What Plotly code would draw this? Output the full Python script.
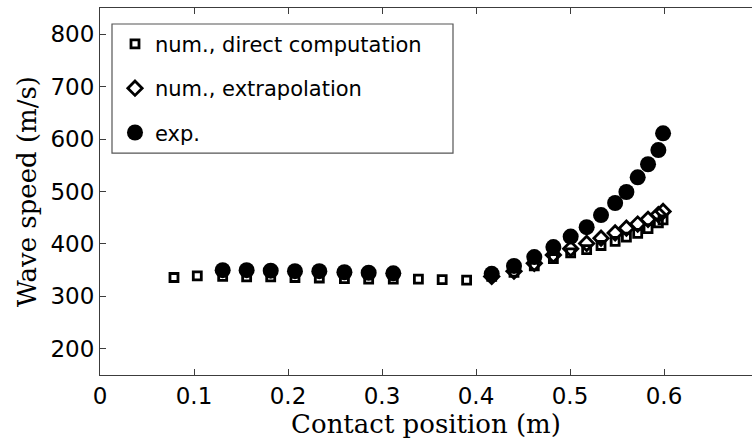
import plotly.graph_objects as go

# Direct computation (squares)
x_direct = [0.0787, 0.1035, 0.1305, 0.156, 0.1816, 0.2074, 0.2333, 0.26, 0.2858, 0.312,
            0.3387, 0.364, 0.39,
            0.4167, 0.4404, 0.462, 0.4823, 0.5007, 0.5177, 0.533, 0.548, 0.560, 0.572,
            0.583, 0.594, 0.599]
v_direct = [336, 339, 338, 337, 337, 336, 335, 334, 333, 333,
            333, 332, 331,
            338, 346, 358, 372, 383, 389, 397, 405, 413, 420,
            429, 440, 446]

# Extrapolation (diamonds)
x_extrap = [0.4167, 0.4404, 0.462, 0.4823, 0.5007, 0.5177, 0.533, 0.548, 0.560, 0.572,
            0.583, 0.594, 0.599]
v_extrap = [338, 348, 363, 379, 391, 401, 411, 421, 430, 438, 447, 456, 462]

# Experiment (circles)
x_exp = [0.1305, 0.156, 0.1816, 0.2074, 0.2333, 0.26, 0.2858, 0.312,
         0.4167, 0.4404, 0.462, 0.4823, 0.5007, 0.5177, 0.533, 0.548, 0.560, 0.572,
         0.583, 0.594, 0.599]
v_exp = [350, 350, 349, 348, 348, 346, 345, 344,
         343, 358, 375, 394, 414, 432, 455, 478, 499, 527, 552, 579, 611]

x_ticks = [0, 0.1, 0.2, 0.3, 0.4, 0.5, 0.6]
x_tick_text = ["0", "0.1", "0.2", "0.3", "0.4", "0.5", "0.6"]
y_ticks = [200, 300, 400, 500, 600, 700, 800]

fig = go.Figure()
fig.add_trace(go.Scatter(
    x=x_direct, y=v_direct, mode="markers", name="num., direct computation",
    legendgroup="a",
    marker=dict(symbol="square-open", size=8, color="black", line=dict(width=2.8, color="black"))))
fig.add_trace(go.Scatter(
    x=x_extrap, y=v_extrap, mode="markers", name="num., extrapolation",
    legendgroup="b",
    marker=dict(symbol="diamond-open", size=11, color="black", line=dict(width=2.8, color="black"))))
fig.add_trace(go.Scatter(
    x=x_exp, y=v_exp, mode="markers", name="exp.",
    legendgroup="c",
    marker=dict(symbol="circle", size=16, color="black", line=dict(width=0))))

axcol = "#3c3c3c"
fig.update_layout(
    width=752, height=441,
    margin=dict(l=100, r=0, t=8, b=66),
    paper_bgcolor="white", plot_bgcolor="white",
    font=dict(family="DejaVu Sans", color="black"),
    xaxis=dict(range=[0, 0.6936], tickvals=x_ticks, ticktext=x_tick_text,
               ticks="inside", ticklen=6, tickcolor=axcol, tickwidth=1,
               showline=True, linecolor=axcol, linewidth=1.2, mirror="ticks",
               showgrid=False, zeroline=False,
               tickfont=dict(family="DejaVu Sans", size=23, color="black"),
               title=dict(text="Contact position (m)", standoff=4,
                          font=dict(family="DejaVu Serif", size=26, color="black"))),
    yaxis=dict(range=[150, 850], tickvals=y_ticks,
               ticks="inside", ticklen=6, tickcolor=axcol, tickwidth=1,
               showline=True, linecolor=axcol, linewidth=1.2,
               showgrid=False, zeroline=False,
               tickfont=dict(family="DejaVu Sans", size=23, color="black"),
               title=dict(text="Wave speed (m/s)", standoff=6,
                          font=dict(family="DejaVu Serif", size=26, color="black"))),
    showlegend=True,
    legend=dict(x=0.023, y=0.957, xanchor="left", yanchor="top",
                bgcolor="rgba(0,0,0,0)", borderwidth=0,
                tracegroupgap=14, itemwidth=30,
                font=dict(family="DejaVu Sans", size=21, color="black")),
    shapes=[dict(type="rect", xref="paper", yref="paper",
                 x0=(112 - 100) / 652, x1=(453 - 100) / 652,
                 y0=1 - (153 - 8) / 366.7, y1=1 - (24 - 8) / 366.7,
                 line=dict(color="#555555", width=1.2), fillcolor="white", layer="below")],
)

fig.write_html("out.html")
